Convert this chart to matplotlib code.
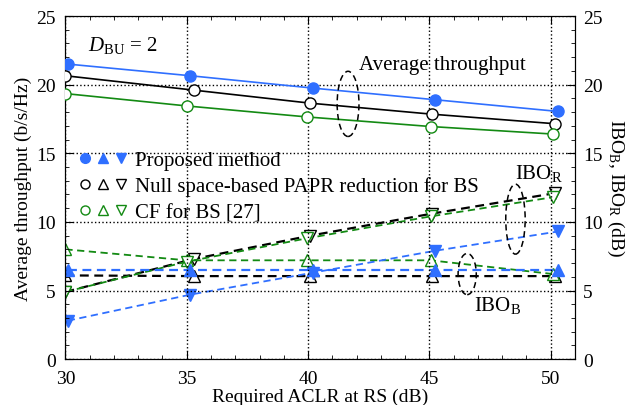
import matplotlib
matplotlib.use("Agg")
import matplotlib.pyplot as plt
from matplotlib.lines import Line2D
from matplotlib.legend_handler import HandlerTuple
from matplotlib.patches import Ellipse
from matplotlib.ticker import MultipleLocator

plt.rcParams['font.family'] = ['Liberation Serif', 'DejaVu Serif']
plt.rcParams['mathtext.fontset'] = 'custom'
plt.rcParams['mathtext.rm'] = 'Liberation Serif'
plt.rcParams['mathtext.it'] = 'Liberation Serif:italic'

BLUE = '#2f6fff'
GREEN = '#138a13'
BLACK = 'black'

# required ACLR (dB), as plotted per series
x_prop = [30.1, 35.15, 40.2, 45.25, 50.3]
x_null = [30.0, 35.3, 40.1, 45.1, 50.2]
x_cf = [30.0, 35.0, 39.95, 45.05, 50.1]

# average throughput (b/s/Hz)
thr_prop = [21.5, 20.65, 19.75, 18.9, 18.05]
thr_null = [20.65, 19.6, 18.65, 17.85, 17.15]
thr_cf = [19.35, 18.45, 17.65, 16.95, 16.4]

# IBO_B (dB)
ibob_prop = [6.5, 6.5, 6.5, 6.5, 6.5]
ibob_null = [6.1, 6.05, 6.05, 6.05, 6.05]
ibob_cf = [8.0, 7.2, 7.2, 7.2, 6.2]

# IBO_R (dB)
ibor_prop = [2.8, 4.7, 6.3, 7.9, 9.3]
ibor_null = [4.9, 7.3, 9.0, 10.6, 12.1]
ibor_cf = [4.9, 7.1, 8.8, 10.4, 11.8]

fig, ax = plt.subplots(figsize=(6.29, 4.06), dpi=100)
fig.subplots_adjust(left=0.104, right=0.914, top=0.958, bottom=0.113)
ax2 = ax.twinx()

ms = 8
ax.plot(x_prop, thr_prop, '-', color=BLUE, lw=1.2, marker='o', ms=ms, mfc=BLUE, mec=BLUE, zorder=5)
ax.plot(x_null, thr_null, '-', color=BLACK, lw=1.2, marker='o', ms=ms, mfc='white', mec=BLACK, zorder=5)
ax.plot(x_cf, thr_cf, '-', color=GREEN, lw=1.2, marker='o', ms=ms, mfc='white', mec=GREEN, zorder=5)

dash = (0, (4, 2.5))
ax2.plot(x_null, ibob_null, color=BLACK, ls=dash, lw=1.6, marker='^', ms=ms, mfc='white', mec=BLACK)
ax2.plot(x_null, ibor_null, color=BLACK, ls=dash, lw=1.6, marker='v', ms=ms, mfc='white', mec=BLACK)
ax2.plot(x_cf, ibob_cf, color=GREEN, ls=dash, lw=1.3, marker='^', ms=ms, mfc='white', mec=GREEN)
ax2.plot(x_cf, ibor_cf, color=GREEN, ls=dash, lw=1.3, marker='v', ms=ms, mfc='white', mec=GREEN)
ax2.plot(x_prop, ibob_prop, color=BLUE, ls=dash, lw=1.6, marker='^', ms=ms, mfc=BLUE, mec=BLUE)
ax2.plot(x_prop, ibor_prop, color=BLUE, ls=dash, lw=1.3, marker='v', ms=ms, mfc=BLUE, mec=BLUE)

for a in (ax, ax2):
    a.set_xlim(30, 51)
    a.set_ylim(0, 25)
    a.yaxis.set_major_locator(MultipleLocator(5))
    a.yaxis.set_minor_locator(MultipleLocator(1))
    a.tick_params(which='both', direction='in', labelsize=14)
    a.tick_params(which='major', length=6)
    a.tick_params(which='minor', length=3)
ax.xaxis.set_major_locator(MultipleLocator(5))
ax.xaxis.set_minor_locator(MultipleLocator(1))
ax.tick_params(which='both', top=True)
ax.tick_params(axis='x', which='major', pad=8)
ax.tick_params(axis='y', which='major', pad=7)
ax2.tick_params(axis='y', which='major', pad=6)
ax.grid(True, which='major', ls=':', color='black', lw=1.0)

ax.set_xlabel('Required ACLR at RS (dB)', fontsize=14, labelpad=0)
ax.set_ylabel('Average throughput (b/s/Hz)', fontsize=14, labelpad=3)
ax2.set_ylabel(r'IBO$_{\rm B}$, IBO$_{\rm R}$ (dB)', fontsize=14, rotation=270, labelpad=17)

# annotations
ax.text(30.95, 22.9, r'$D_{\rm BU}$ = 2', fontsize=15, va='center')
ax.text(45.55, 21.5, 'Average throughput', fontsize=15, ha='center', va='center')
ax.text(49.5, 13.6, r'IBO$_{\rm R}$', fontsize=15, ha='center', va='center')
ax.text(47.8, 4.0, r'IBO$_{\rm B}$', fontsize=15, ha='center', va='center')
ell = dict(fill=False, ls=(0, (4, 2.5)), lw=1.1, ec='black', zorder=6)
ax.add_patch(Ellipse((41.65, 18.6), 0.9, 4.75, **ell))
ax.add_patch(Ellipse((48.55, 10.2), 0.8, 5.1, **ell))
ax.add_patch(Ellipse((46.56, 6.2), 0.75, 3.0, **ell))

# legend with three marker symbols per entry
def trio(c, filled):
    fc = c if filled else 'white'
    return tuple(Line2D([], [], ls='none', marker=m, ms=ms - 1 if filled else ms - 1.5,
                        mfc=fc, mec=c) for m in ('o', '^', 'v'))

handles = [trio(BLUE, True), trio(BLACK, False), trio(GREEN, False)]
labels = ['Proposed method', 'Null space-based PAPR reduction for BS', 'CF for BS [27]']
ax.legend(handles, labels, handler_map={tuple: HandlerTuple(ndivide=None, pad=0.25)},
          loc='upper left', bbox_to_anchor=(0.0, 0.645), frameon=False, fontsize=15,
          handlelength=2.4, handletextpad=0.35, labelspacing=0.32, borderaxespad=0.2)

ax.set_zorder(ax2.get_zorder() + 1)
ax.patch.set_visible(False)

fig.savefig('out.png', dpi=100)
